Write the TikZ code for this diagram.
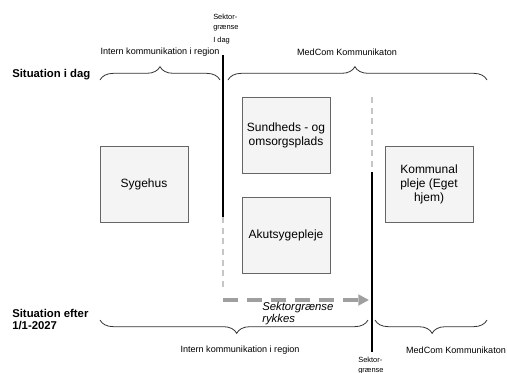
\documentclass[tikz,border=0pt]{standalone}
\usepackage{fontspec}
\setmainfont{Liberation Sans}
\usetikzlibrary{calc,arrows.meta,decorations.pathreplacing}

\begin{document}
\begin{tikzpicture}[x=0.75pt,y=-0.75pt,
    care/.style={draw=gray!80!black, fill=gray!9, minimum width=66pt,
      minimum height=57pt, align=center, font=\fontsize{9}{10.5}\selectfont},
    small/.style={inner sep=0pt, font=\fontsize{6.8}{8}\selectfont},
    headline/.style={inner sep=0pt, anchor=west, align=left,
      font=\fontsize{8.5}{9}\selectfont\bfseries},
    grens/.style={line width=1.5pt, black},
    oldgrens/.style={gray!45, line width=0.8pt, dash pattern=on 4.5pt off 3.5pt},
    bracket/.style={gray!40!black, line width=0.6pt,
      decorate, decoration={brace, amplitude=10pt, aspect=0.5}}]
  \useasboundingbox (0,0) rectangle (507,372);

  %% Care places
  \foreach \name/\x/\y/\txt in {syg/144/184.5/{Sygehus},
      sund/286/135/{Sundheds - og\\omsorgsplads},
      akut/286/235/{Akutsygepleje},
      komm/429/184.5/{Kommunal\\pleje (Eget\\hjem)}}
  {
    \node[care] (\name) at (\x,\y) {\txt};
  }

  %% Row headings
  \node[headline] (sitNu) at (12,75) {Situation i dag};
  \node[headline] (sitEfter) at (12,320) {Situation efter\\1/1-2027};

  %% Sector borders
  \coordinate (G1top) at (223,55);
  \coordinate (G1mid) at (223,217);
  \coordinate (G1bot) at (223,290);
  \coordinate (G2top) at (372,97);
  \coordinate (G2mid) at (372,172);
  \coordinate (G2bot) at (372,352);
  \draw[grens] (G1top) -- (G1mid);
  \draw[oldgrens] (G1mid) -- (G1bot);
  \draw[oldgrens] (G2top) -- (G2mid);
  \draw[grens] (G2mid) -- (G2bot);
  \node[inner sep=0pt, anchor=north west, align=left,
    font=\fontsize{5.6}{7.5}\selectfont] (grensNu) at (213,14)
    {Sektor-\\grænse\\[2pt]I dag};
  \node[inner sep=0pt, anchor=north west, align=left,
    font=\fontsize{5.6}{7.5}\selectfont] (grensEfter) at (358,357)
    {Sektor-\\grænse};

  %% The border moves
  \coordinate (flytA) at (223,300);
  \coordinate (flytB) at (369,300);
  \draw[gray!75, line width=3pt, dash pattern=on 11pt off 7pt,
    -{Triangle[length=8pt,width=8pt]}] (flytA) -- (flytB);
  \node[inner sep=0pt, anchor=north west, align=left,
    font=\fontsize{8.5}{9}\selectfont\itshape] (flyt) at (262,302)
    {Sektorgrænse\\rykkes};

  %% Braces, today
  \draw[bracket] (100,80) -- (220,80);
  \draw[bracket, decoration={aspect=0.49}] (228,80) -- (487,80);
  \node[small] (internNu) at (160,52) {Intern kommunikation i region};
  \node[small] (medcomNu) at (347,52) {MedCom Kommunikaton};

  %% Braces, after
  \draw[bracket, decoration={aspect=0.49}] (368,320) -- (100,320);
  \draw[bracket, decoration={aspect=0.49}] (487,320) -- (375,320);
  \node[small] (internEfter) at (240,350) {Intern kommunikation i region};
  \node[small] (medcomEfter) at (456,350) {MedCom Kommunikaton};
\end{tikzpicture}
\end{document}
